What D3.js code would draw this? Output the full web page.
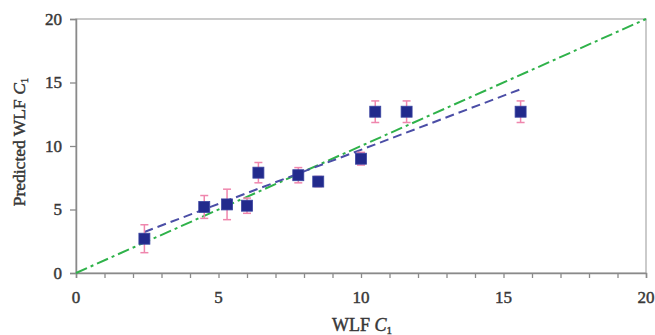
<!DOCTYPE html>
<html>
<head>
<meta charset="utf-8">
<script src="https://cdn.jsdelivr.net/npm/d3@7/dist/d3.min.js"></script>
<style>
  html, body { margin: 0; padding: 0; background: #fff; }
  svg { display: block; }
  text { font-family: "Liberation Serif", "DejaVu Serif", serif; fill: #333; }
</style>
</head>
<body>
<svg id="chart" width="655" height="335"></svg>
<script>
// Measured WLF C1 against predicted C1, with error bars
const measuredC1  = [2.4, 4.5, 5.3, 6.0, 6.4, 7.8, 8.5, 10.0, 10.5, 11.6, 15.6];
const predictedC1 = [2.7, 5.2, 5.4, 5.3, 7.9, 7.7, 7.2, 9.0, 12.7, 12.7, 12.7];
const errorC1     = [1.1, 0.9, 1.2, 0.6, 0.8, 0.6, 0.4, 0.5, 0.85, 0.85, 0.85];

const xTicks = [0, 5, 10, 15, 20];
const yTicks = [0, 5, 10, 15, 20];
const xMinorTicks = d3.range(0, 21, 1);
const identityLine = [0, 20];

const svg = d3.select("#chart");
const margin = { left: 76, right: 9, top: 19, bottom: 62 };
const W = 655, H = 335;

const x = d3.scaleLinear().domain([0, 20]).range([margin.left, W - margin.right]);
const y = d3.scaleLinear().domain([0, 20]).range([H - margin.bottom, margin.top]);

const axisColor = "#8a8a8a";
const inkColor = "#383838";

// slightly heavy serif text
function heavy(sel, size) {
  sel.style("font-family", "'Liberation Serif', serif")
    .style("font-size", size + "px")
    .style("fill", inkColor)
    .style("stroke", inkColor)
    .style("stroke-width", 0.45);
}

// plot frame
svg.append("rect")
  .attr("x", x(0)).attr("y", y(20))
  .attr("width", x(20) - x(0)).attr("height", y(0) - y(20))
  .attr("fill", "none").attr("stroke", "#a8a8a8").attr("stroke-width", 1.2);

// x axis: minor ticks every unit, labels every 5
const xAxis = svg.append("g")
  .attr("transform", `translate(0,${y(0)})`)
  .call(d3.axisBottom(x).tickValues(xMinorTicks).tickSize(5).tickFormat(""));
xAxis.select(".domain").attr("stroke", axisColor).attr("stroke-width", 1.5);
xAxis.selectAll(".tick line").attr("stroke", axisColor).attr("stroke-width", 1.3);

svg.append("g").selectAll("text").data(xTicks).join("text")
  .attr("x", d => x(d)).attr("y", y(0) + 30)
  .attr("text-anchor", "middle")
  .call(heavy, 17)
  .text(d => d);

// y axis
const yAxis = svg.append("g")
  .attr("transform", `translate(${x(0)},0)`)
  .call(d3.axisLeft(y).tickValues(yTicks).tickSize(6).tickPadding(8));
yAxis.select(".domain").attr("stroke", axisColor).attr("stroke-width", 1.5);
yAxis.selectAll(".tick line").attr("stroke", axisColor).attr("stroke-width", 1.3);
yAxis.selectAll(".tick text").call(heavy, 17);

// axis titles
const xt = svg.append("text")
  .attr("x", 362).attr("y", 331)
  .attr("text-anchor", "middle")
  .call(heavy, 18);
xt.append("tspan").text("WLF ");
xt.append("tspan").style("font-style", "italic").text("C");
xt.append("tspan").attr("dy", 3).style("font-size", "11px").text("1");

const yt = svg.append("text")
  .attr("transform", `translate(25,142) rotate(-90)`)
  .attr("text-anchor", "middle")
  .call(heavy, 17.5);
yt.append("tspan").text("Predicted WLF ");
yt.append("tspan").style("font-style", "italic").text("C");
yt.append("tspan").attr("dy", 3).style("font-size", "11px").text("1");

// identity line (dash-dot)
svg.append("line")
  .attr("x1", x(identityLine[0])).attr("y1", y(identityLine[0]))
  .attr("x2", x(identityLine[1])).attr("y2", y(identityLine[1]))
  .attr("stroke", "#2fb24a").attr("stroke-width", 2)
  .attr("stroke-dasharray", "12,4,3,4");

// least-squares fit through the points (dashed)
const mx = d3.mean(measuredC1), my = d3.mean(predictedC1);
const sxy = d3.sum(measuredC1, (v, i) => (v - mx) * (predictedC1[i] - my));
const sxx = d3.sum(measuredC1, v => (v - mx) ** 2);
const slope = sxy / sxx, intercept = my - slope * mx;
const [x0, x1] = d3.extent(measuredC1);
svg.append("line")
  .attr("x1", x(x0)).attr("y1", y(intercept + slope * x0))
  .attr("x2", x(x1)).attr("y2", y(intercept + slope * x1))
  .attr("stroke", "#4b4ea6").attr("stroke-width", 2)
  .attr("stroke-dasharray", "9,5");

// error bars
const pts = measuredC1.map((v, i) => ({ x: v, y: predictedC1[i], e: errorC1[i] }));
const eb = svg.append("g").attr("stroke", "#ef86ad").attr("stroke-width", 1.5);
eb.selectAll("line.v").data(pts).join("line").attr("class", "v")
  .attr("x1", d => x(d.x)).attr("x2", d => x(d.x))
  .attr("y1", d => y(d.y - d.e)).attr("y2", d => y(d.y + d.e));
eb.selectAll("line.t").data(pts).join("line").attr("class", "t")
  .attr("x1", d => x(d.x) - 4).attr("x2", d => x(d.x) + 4)
  .attr("y1", d => y(d.y + d.e)).attr("y2", d => y(d.y + d.e));
eb.selectAll("line.b").data(pts).join("line").attr("class", "b")
  .attr("x1", d => x(d.x) - 4).attr("x2", d => x(d.x) + 4)
  .attr("y1", d => y(d.y - d.e)).attr("y2", d => y(d.y - d.e));

// square markers
const s = 11;
svg.append("g").selectAll("rect").data(pts).join("rect")
  .attr("x", d => x(d.x) - s / 2).attr("y", d => y(d.y) - s / 2)
  .attr("width", s).attr("height", s)
  .attr("fill", "#222a8c").attr("stroke", "#3a44a0").attr("stroke-width", 0.8);
</script>
</body>
</html>
